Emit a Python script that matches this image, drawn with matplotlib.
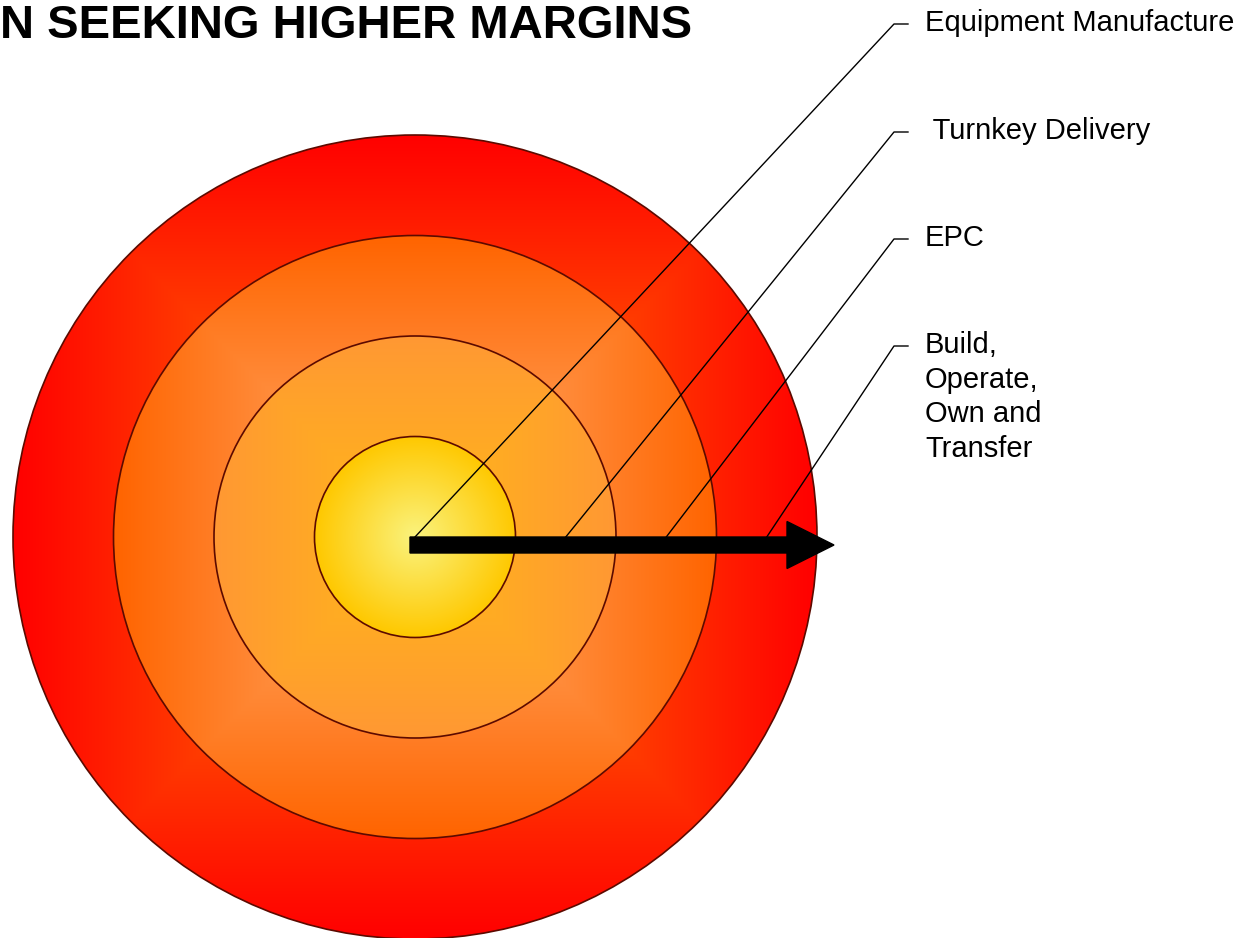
import numpy as np
import matplotlib.pyplot as plt
from matplotlib.patches import Circle
from matplotlib.colors import to_rgb

plt.rcParams['font.family'] = ['Liberation Sans', 'DejaVu Sans']

# rings, inner -> outer
ring_labels = ["Equipment Manufacture", " Turnkey Delivery", "EPC",
               "Build,\nOperate,\nOwn and\nTransfer"]
ring_levels = [1, 2, 3, 4]
ring_edge = ["#FFC800", "#FF9833", "#FF6400", "#FF0000"]
ring_center = ["#FAF37E", "#FFB819", "#FFB070", "#FF8000"]
leader_anchor = [0, 1.5, 2.5, 3.5]   # in ring units along the arrow
label_y = [24, 132, 239, 346]

title = "N SEEKING HIGHER MARGINS"

cx, cy, unit = 415, 537, 100.5

fig = plt.figure(figsize=(12.44, 9.38), dpi=100)
ax = fig.add_axes([0, 0, 1, 1])
ax.axis('off')

# circles drawn from outside in, each with its own gradient
for lvl, c0, c1 in sorted(zip(ring_levels, ring_center, ring_edge), reverse=True):
    r = lvl * unit
    n = 400
    xs = np.linspace(-1, 1, n)
    X, Y = np.meshgrid(xs, xs)
    if lvl == 1:
        t = np.clip(np.hypot(X, Y), 0, 1)
    else:
        t = np.maximum(np.abs(X), np.abs(Y))
    a, b = np.array(to_rgb(c0)), np.array(to_rgb(c1))
    img = a + (b - a) * t[..., None]
    im = ax.imshow(img, extent=[cx - r, cx + r, cy + r, cy - r],
                   interpolation='bilinear', zorder=1)
    circ = Circle((cx, cy), r, facecolor='none', edgecolor='#5C0A00', lw=1.2, zorder=2)
    ax.add_patch(circ)
    im.set_clip_path(circ)

ax.set_xlim(0, 1244)
ax.set_ylim(938, 0)

# leaders + labels
for lab, anc, ly in zip(ring_labels, leader_anchor, label_y):
    x0 = cx + anc * unit
    ax.plot([x0, 894, 908], [cy, ly, ly], color='black', lw=1.0, zorder=3)
    ax.text(925, ly - 15, lab, fontsize=21, ha='left', va='top',
            linespacing=1.3, zorder=4)

# arrow
ax.arrow(cx - 5, cy + 8, max(ring_levels) * unit + 22, 0,
         width=16, head_width=47, head_length=47, length_includes_head=True,
         fc='black', ec='black', zorder=5)

ax.text(0, 38, title, fontsize=34, fontweight='bold', ha='left', va='baseline')

fig.savefig("out.png", dpi=100)
